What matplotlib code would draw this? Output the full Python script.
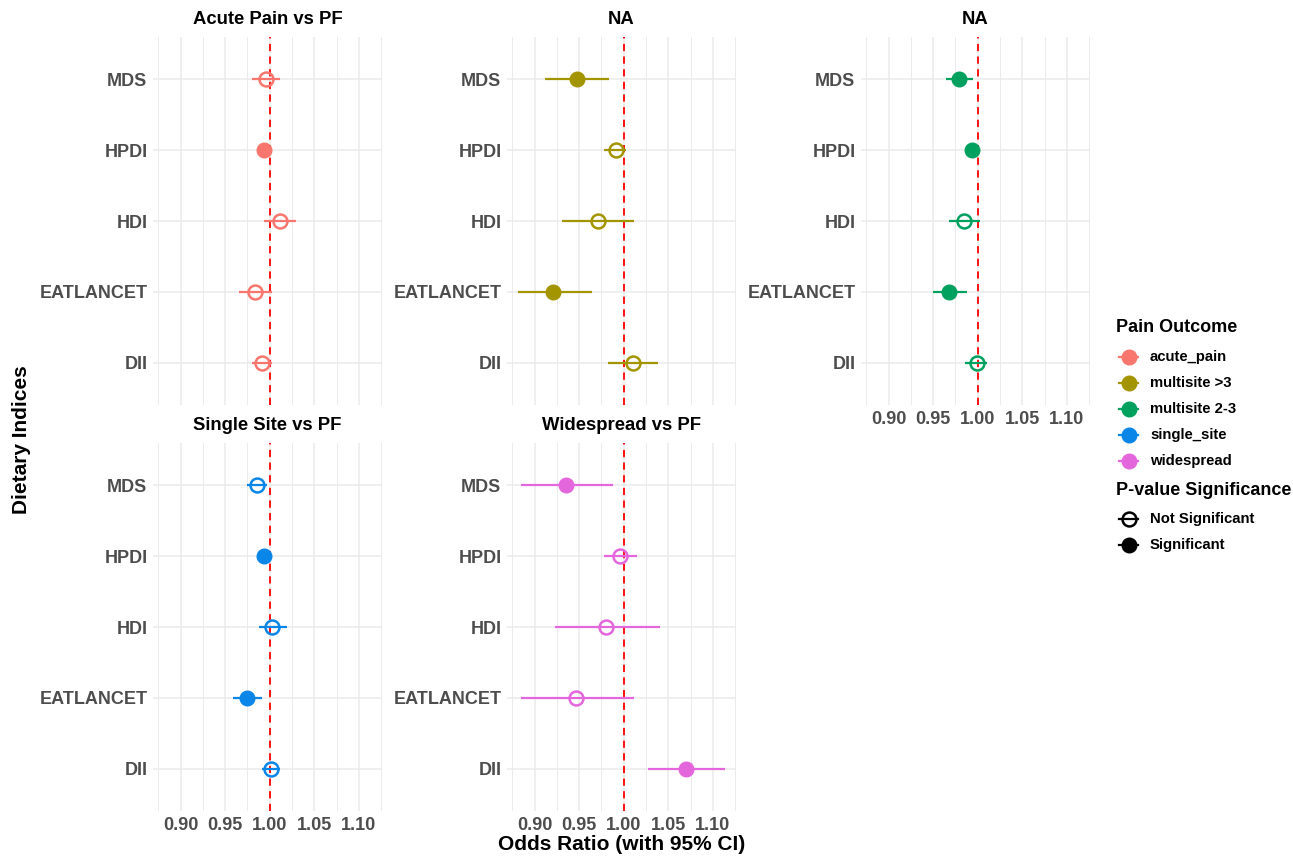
import numpy as np
import matplotlib
matplotlib.use('Agg')
from matplotlib import pyplot as plt

plt.rcParams['font.family'] = ['Liberation Sans', 'DejaVu Sans']

indices = ['DII', 'EATLANCET', 'HDI', 'HPDI', 'MDS']   # bottom -> top
outcomes = ['acute_pain', 'multisite >3', 'multisite 2-3', 'single_site', 'widespread']
titles = ['Acute Pain vs PF', 'NA', 'NA', 'Single Site vs PF', 'Widespread vs PF']
colors = ['#F8766D', '#A39500', '#00A05E', '#0A86E8', '#E466DC']

# odds ratios, order DII, EATLANCET, HDI, HPDI, MDS
or_acute = [0.991, 0.984, 1.012, 0.994, 0.996]
lo_acute = [0.980, 0.966, 0.994, 0.990, 0.980]
hi_acute = [1.003, 1.003, 1.029, 0.998, 1.011]
sig_acute = [0, 0, 0, 1, 0]

or_multi3 = [1.010, 0.921, 0.971, 0.991, 0.947]
lo_multi3 = [0.982, 0.881, 0.931, 0.978, 0.912]
hi_multi3 = [1.039, 0.964, 1.012, 1.003, 0.983]
sig_multi3 = [0, 1, 0, 0, 1]

or_multi23 = [0.999, 0.968, 0.985, 0.994, 0.979]
lo_multi23 = [0.986, 0.950, 0.968, 0.990, 0.964]
hi_multi23 = [1.010, 0.988, 1.003, 0.998, 0.995]
sig_multi23 = [0, 1, 0, 1, 1]

or_single = [1.001, 0.975, 1.003, 0.994, 0.986]
lo_single = [0.991, 0.959, 0.988, 0.989, 0.974]
hi_single = [1.011, 0.991, 1.019, 0.998, 0.997]
sig_single = [0, 1, 0, 1, 0]

or_wide = [1.070, 0.946, 0.980, 0.996, 0.935]
lo_wide = [1.027, 0.885, 0.923, 0.978, 0.885]
hi_wide = [1.114, 1.011, 1.041, 1.015, 0.988]
sig_wide = [1, 0, 0, 0, 1]

panels = [(or_acute, lo_acute, hi_acute, sig_acute),
          (or_multi3, lo_multi3, hi_multi3, sig_multi3),
          (or_multi23, lo_multi23, hi_multi23, sig_multi23),
          (or_single, lo_single, hi_single, sig_single),
          (or_wide, lo_wide, hi_wide, sig_wide)]

W, H = 1293, 857
fig = plt.figure(figsize=(W / 100, H / 100), dpi=100)

# panel boxes in pixels: left, right, top, bottom
boxes = [(153, 382, 37, 405), (507, 736, 37, 405), (861, 1090, 37, 405),
         (153, 382, 443, 811), (507, 736, 443, 811)]

xticks = [0.90, 0.95, 1.00, 1.05, 1.10]
minor = [0.875, 0.925, 0.975, 1.025, 1.075, 1.125]
y = np.arange(1, 6)

for i, (d, b) in enumerate(zip(panels, boxes)):
    l, r, t, bt = b
    ax = fig.add_axes([l / W, (H - bt) / H, (r - l) / W, (bt - t) / H])
    orv, lo, hi, sig = [np.array(a) for a in d]
    c = colors[i]
    for v in minor:
        ax.axvline(v, color='#EBEBEB', lw=0.7, zorder=0)
    for v in xticks:
        ax.axvline(v, color='#EBEBEB', lw=1.1, zorder=0)
    for v in y:
        ax.axhline(v, color='#EBEBEB', lw=1.1, zorder=0)
    ax.axvline(1.0, color='#FF0000', ls=(0, (4, 3)), lw=1.3, zorder=1)
    ax.hlines(y, lo, hi, color=c, lw=1.6, zorder=2)
    for k in range(5):
        if sig[k]:
            ax.plot(orv[k], y[k], 'o', ms=10.5, color=c, mec=c, zorder=3)
        else:
            ax.plot(orv[k], y[k], 'o', ms=10, mfc='none', mec=c, mew=1.8, zorder=3)
    ax.set_xlim(0.869, 1.126)
    ax.set_ylim(0.4, 5.6)
    ax.set_yticks(y)
    ax.set_yticklabels(indices, fontsize=13, fontweight='bold', color='#4D4D4D')
    ax.set_xticks(xticks)
    if i in (2, 3, 4):
        ax.set_xticklabels(['%.2f' % v for v in xticks], fontsize=13,
                           fontweight='bold', color='#4D4D4D')
    else:
        ax.set_xticklabels([])
    ax.tick_params(length=0, pad=4)
    for s in ax.spines.values():
        s.set_visible(False)
    ax.set_title(titles[i], fontsize=13.3, fontweight='bold', pad=9)

fig.text(22 / W, 1 - 440 / H, 'Dietary Indices', rotation=90, fontsize=15,
         fontweight='bold', ha='center', va='center')
fig.text(622 / W, 1 - 845 / H, 'Odds Ratio (with 95% CI)', fontsize=15,
         fontweight='bold', ha='center', va='center')

# legends
lg = fig.add_axes([0, 0, 1, 1])
lg.set_xlim(0, W)
lg.set_ylim(H, 0)
lg.axis('off')
lg.text(1116, 327, 'Pain Outcome', fontsize=13, fontweight='bold', va='center')
for k, (name, c) in enumerate(zip(outcomes, colors)):
    yy = 357 + 26 * k
    lg.plot([1119, 1138], [yy, yy], color=c, lw=1.6)
    lg.plot(1128.5, yy, 'o', ms=10.5, color=c)
    lg.text(1150, yy, name, fontsize=10.7, fontweight='bold', va='center')
lg.text(1116, 490, 'P-value Significance', fontsize=13, fontweight='bold', va='center')
for k, (name, fill) in enumerate([('Not Significant', False), ('Significant', True)]):
    yy = 519 + 26 * k
    lg.plot([1119, 1138], [yy, yy], color='black', lw=1.6)
    if fill:
        lg.plot(1128.5, yy, 'o', ms=10.5, color='black')
    else:
        lg.plot(1128.5, yy, 'o', ms=10, mfc='none', mec='black', mew=1.8)
    lg.text(1150, yy, name, fontsize=10.7, fontweight='bold', va='center')

plt.savefig('out.png', dpi=100)
